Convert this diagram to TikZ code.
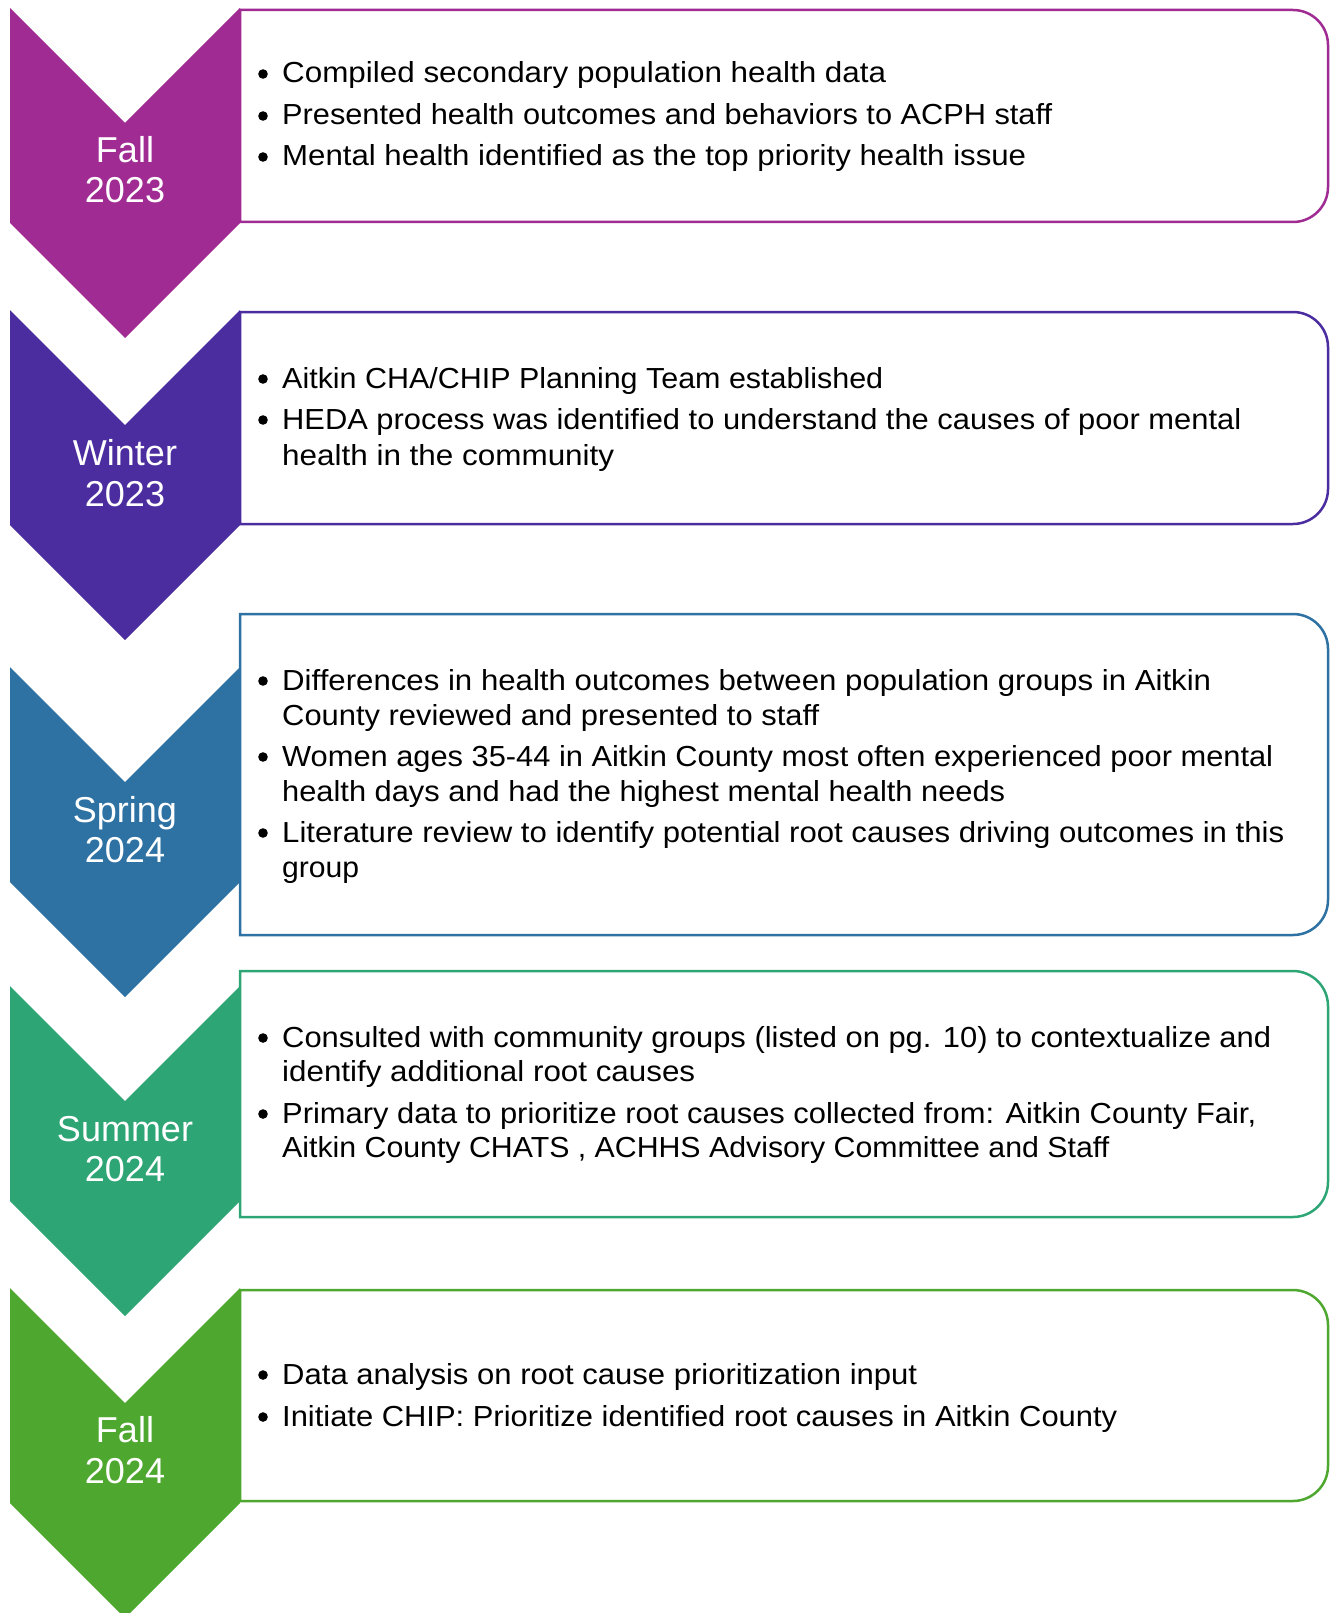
\documentclass[tikz,border=0pt]{standalone}
\usepackage{fontspec}
\setmainfont{Liberation Sans}
\usepackage{graphicx}

\definecolor{fallA}{HTML}{A02B93}
\definecolor{winter}{HTML}{4B2DA0}
\definecolor{spring}{HTML}{2E71A3}
\definecolor{summer}{HTML}{2EA574}
\definecolor{fallB}{HTML}{4EA72E}

\tikzset{
  itemline/.style={anchor=base west, inner sep=0pt, text=black,
    font=\fontsize{29}{35}\selectfont},
  season/.style={anchor=base, inner sep=0pt, text=white,
    font=\fontsize{36}{41}\selectfont},
  panelbox/.style={line width=2.5pt, fill=white},
}

% chevron: top edge y, colour
\newcommand\chevron[2]{%
  \fill[#2] (10,-#1) -- (125,{-#1-115}) -- (240,-#1) -- (240,{-#1-215})
    -- (125,{-#1-330}) -- (10,{-#1-215}) -- cycle;}
% text panel with rounded right corners: top, bottom, colour
\newcommand\panel[3]{%
  \draw[panelbox, draw=#3] (240,-#1) -- (1293,-#1)
    arc[start angle=90, end angle=0, radius=35pt] -- (1328,{-#2+35})
    arc[start angle=0, end angle=-90, radius=35pt] -- (240,-#2) -- cycle;}
% one text line: name, baseline, width, text
\newcommand\tline[4]{%
  \node[itemline] (#1) at (282,-#2) {\resizebox{#3pt}{\height}{#4}};}
% bullet mark at a baseline
\newcommand\bulletmark[1]{\fill[black] (263,{-#1+9}) circle (4.8pt);}

\begin{document}
\begin{tikzpicture}[x=1pt, y=1pt]
\useasboundingbox (0,0) rectangle (1335,-1613);
\clip (0,0) rectangle (1335,-1613);

% season chevrons
\chevron{8}{fallA}
\chevron{310}{winter}
\chevron{667}{spring}
\chevron{986}{summer}
\chevron{1288}{fallB}

% activity panels
\panel{10}{222}{fallA}
\panel{312}{524}{winter}
\panel{614}{935}{spring}
\panel{971}{1217}{summer}
\panel{1290}{1501}{fallB}

% season labels
\node[season] (s1a) at (125,-163) {Fall};
\node[season] (s1b) at (125,-203) {2023};
\node[season] (s2a) at (125,-465) {Winter};
\node[season] (s2b) at (125,-506) {2023};
\node[season] (s3a) at (125,-822) {Spring};
\node[season] (s3b) at (125,-862) {2024};
\node[season] (s4a) at (125,-1141) {Summer};
\node[season] (s4b) at (125,-1181) {2024};
\node[season] (s5a) at (125,-1442) {Fall};
\node[season] (s5b) at (125,-1483) {2024};

% Fall 2023
\bulletmark{83}
\tline{p1a}{83}{604}{Compiled secondary population health data}
\bulletmark{125}
\tline{p1b}{125}{770}{Presented health outcomes and behaviors to ACPH staff}
\bulletmark{166}
\tline{p1c}{166}{744}{Mental health identified as the top priority health issue}

% Winter 2023
\bulletmark{388}
\tline{p2a}{388}{601}{Aitkin CHA/CHIP Planning Team established}
\bulletmark{429}
\tline{p2b}{429}{959}{HEDA process was identified to understand the causes of poor mental}
\tline{p2c}{465}{332}{health in the community}

% Spring 2024
\bulletmark{690}
\tline{p3a}{690}{929}{Differences in health outcomes between population groups in Aitkin}
\tline{p3b}{725}{537}{County reviewed and presented to staff}
\bulletmark{766}
\tline{p3c}{766}{991}{Women ages 35-44 in Aitkin County most often experienced poor mental}
\tline{p3d}{801}{723}{health days and had the highest mental health needs}
\bulletmark{842}
\tline{p3e}{842}{1002}{Literature review to identify potential root causes driving outcomes in this}
\tline{p3f}{877}{77}{group}

% Summer 2024
\bulletmark{1047}
\tline{p4a}{1047}{989}{Consulted with community groups (listed on pg. 10) to contextualize and}
\tline{p4b}{1081}{413}{identify additional root causes}
\bulletmark{1123}
\tline{p4c}{1123}{974}{Primary data to prioritize root causes collected from: Aitkin County Fair,}
\tline{p4d}{1157}{827}{Aitkin County CHATS , ACHHS Advisory Committee and Staff}

% Fall 2024
\bulletmark{1384}
\tline{p5a}{1384}{635}{Data analysis on root cause prioritization input}
\bulletmark{1426}
\tline{p5b}{1426}{835}{Initiate CHIP: Prioritize identified root causes in Aitkin County}
\end{tikzpicture}
\end{document}
